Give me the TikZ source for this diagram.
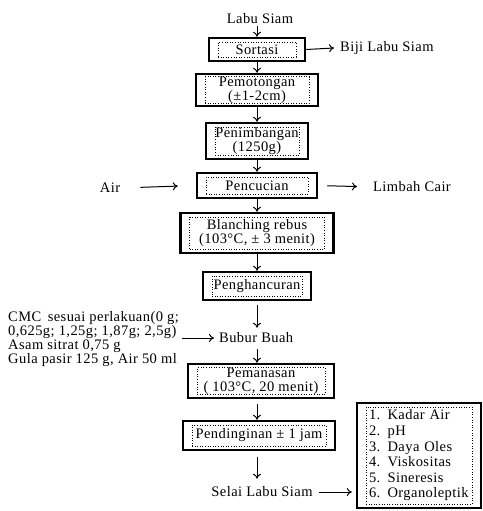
\documentclass[tikz,border=0pt]{standalone}
\usepackage{fontspec}
\setmainfont[LetterSpace=3]{Liberation Serif}
\usetikzlibrary{arrows.meta}
\newcommand{\procbox}[6]{%
  \node[outbox, minimum width=#3, minimum height=#4] (#1) at (#2) {};
  \node[inbox, minimum width=#3-18, minimum height=#4-8] (#1t) at (#1) {#5};
}
\begin{document}
\begin{tikzpicture}[x=1pt,y=-1pt,
  txt/.style={font=\fontsize{14.5}{14}\selectfont, inner sep=0pt},
  inbox/.style={txt, draw, dotted, line width=0.6pt, inner sep=0pt, align=center},
  outbox/.style={draw, line width=2.5pt, inner sep=0pt},
  arr/.style={-{To[length=5pt,width=8pt]}, line width=1pt},
]
\useasboundingbox[fill=white] (0,0) rectangle (482,511);

\node[txt] (start) at (260,19) {Labu Siam};

\procbox{b1}{257,49.5}{96}{23}{Sortasi}{}
\procbox{b2}{257,90}{122}{32}{Pemotongan\\(±1-2cm)}{}
\procbox{b3}{257,141}{102}{36}{Penimbangan\\(1250g)}{}
\procbox{b4}{257,185.5}{120}{25}{Pencucian}{}
\procbox{b5}{257,233}{153}{40}{Blanching rebus\\(103°C, ± 3 menit)}{}
\procbox{b6}{257,286}{108}{28}{Penghancuran}{}

\node[txt, anchor=west] (bubur) at (219,338) {Bubur Buah};

\procbox{b7}{261,381}{146}{34}{Pemanasan\\( 103°C, 20 menit)}{}
\procbox{b8}{259,435.5}{152}{29}{Pendinginan ± 1 jam}{}

\node[txt] (selai) at (262,492) {Selai Labu Siam};

\node[outbox, minimum width=124, minimum height=105] (res) at (419,455.5) {};
\node[inbox, align=left, font=\fontsize{14.5}{15.6}\selectfont, minimum width=106, minimum height=97, text width=100] (list) at (res) {1. Kadar Air\\2. pH\\3. Daya Oles\\4. Viskositas\\5. Sineresis\\6. Organoleptik};

\node[txt, anchor=west] (biji) at (340,48) {Biji Labu Siam};
\node[txt] (air) at (110,188) {Air};
\node[txt, anchor=west] (limbah) at (373,187) {Limbah Cair};
\node[txt, anchor=north west, align=left] (cmc) at (8,311) {CMC\, sesuai perlakuan(0 g;\\0,625g; 1,25g; 1,87g; 2,5g)\\Asam sitrat 0,75 g\\Gula pasir 125 g, Air 50 ml};

\draw[arr, shorten <=2pt] (b1.north |- start.south) -- (b1.north);
\draw[arr] (b1) -- (b2);
\draw[arr] (b2) -- (b3);
\draw[arr] (b3) -- (b4);
\draw[arr] (b4) -- (b5);
\draw[arr] (b5) -- (b6);
\draw[arr, shorten <=4pt, shorten >=5pt] (b6.south) -- (b6.south |- bubur.north);
\draw[arr, shorten <=6pt] (b1.south |- bubur.south) -- (b1.south |- b7.north);
\draw[arr, shorten <=5pt] (b1.south |- b7.south) -- (b1.south |- b8.north);
\draw[arr, shorten <=6pt, shorten >=8pt] (b1.south |- b8.south) -- (b1.south |- selai.north);
\draw[arr] (b1.east) -- ([xshift=-6pt]biji.west);
\draw[arr, shorten <=20pt, shorten >=18pt] (air.east) -- (b4.west);
\draw[arr, shorten <=9pt, shorten >=16pt] (b4.east) -- (limbah.west);
\draw[arr, shorten <=3pt, shorten >=5pt] (cmc.east |- bubur.west) -- (bubur.west);
\draw[arr, shorten <=6pt, shorten >=4pt] (selai.east) -- (selai.east -| res.west);
\end{tikzpicture}
\end{document}
